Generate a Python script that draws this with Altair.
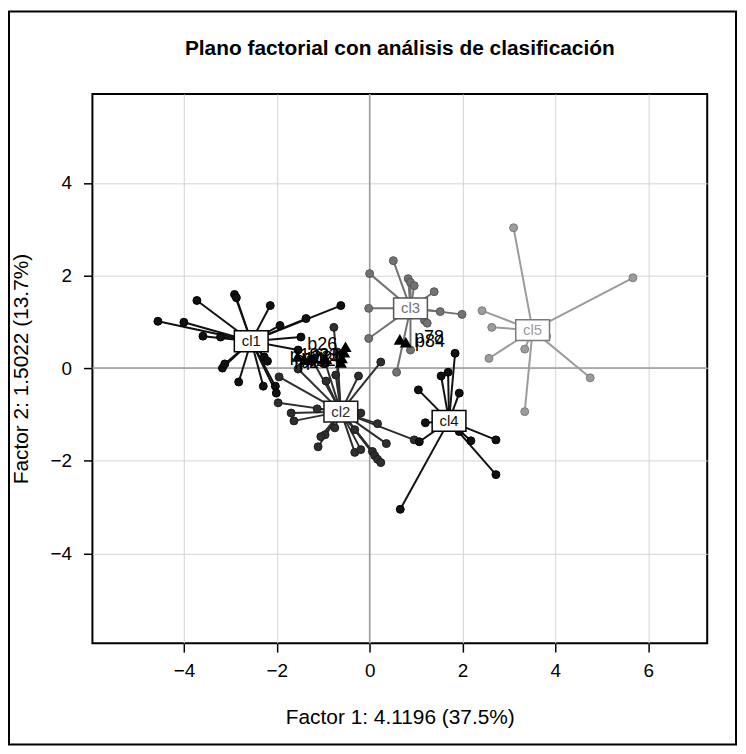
import altair as alt
import pandas as pd

title_text = "Plano factorial con análisis de clasificación"
x_title = "Factor 1: 4.1196 (37.5%)"
y_title = "Factor 2: 1.5022 (13.7%)"

x_ticks = [-4, -2, 0, 2, 4, 6]
y_ticks = [-4, -2, 0, 2, 4]
x_domain = [-5.97, 7.27]
y_domain = [-5.94, 5.92]

clusters = ["cl1", "cl2", "cl3", "cl4", "cl5"]
center_x = [-2.55, -0.62, 0.88, 1.71, 3.51]
center_y = [0.58, -0.94, 1.29, -1.14, 0.82]
line_colors = ["#111111", "#2e2e2e", "#727272", "#111111", "#9c9c9c"]
edge_colors = ["#000000", "#1a1a1a", "#555555", "#000000", "#7a7a7a"]

cl1_x = [-4.56, -4.00, -3.72, -3.59, -3.21, -2.91, -2.87, -2.14, -1.93, -1.37, -0.62,
         -1.48, -1.54, -3.17, -3.12, -2.82, -2.29, -2.27, -2.20, -2.03, -2.01]
cl1_y = [1.01, 0.99, 1.46, 0.69, 0.67, 1.59, 1.52, 1.35, 0.92, 1.07, 1.35,
         0.67, 0.39, 0.00, 0.09, -0.30, -0.39, 0.24, 0.15, -0.39, -0.54]

cl2_x = [-1.95, -1.97, -1.69, -1.63, -1.13, -0.94, -0.73, -0.24, 0.24, -0.77, -1.54,
         -0.19, 0.17, 0.36, 0.96, -0.75, -0.96, -1.05, -1.11, -0.32, -0.32, -0.19,
         0.06, 0.11, 0.17, 0.24, -1.25, -0.95, -0.70]
cl2_y = [-0.19, -0.75, -0.97, -1.14, -0.88, -0.28, -0.15, -0.17, 0.13, 0.88, -0.02,
         -0.97, -1.20, -1.63, -1.55, -1.29, -1.44, -1.48, -1.70, -1.33, -1.82, -1.76,
         -1.80, -1.89, -1.97, -2.04, 0.20, 0.10, 0.35]

cl3_x = [0.51, 0.00, -0.02, -0.02, 0.83, 0.88, 0.96, 1.39, 1.52, 1.99, 1.18, 1.24, 0.88, 0.58]
cl3_y = [2.32, 2.04, 1.29, 0.64, 1.93, 1.85, 1.78, 1.65, 1.22, 1.16, 1.03, 0.97, 0.39, -0.09]

cl4_x = [1.84, 1.54, 1.69, 1.93, 1.05, 1.20, 1.07, 1.93, 2.18, 2.72, 2.72, 0.66]
cl4_y = [0.32, -0.17, -0.09, -0.54, -0.47, -1.18, -1.59, -1.37, -1.57, -1.55, -2.30, -3.05]

cl5_x = [3.10, 5.67, 2.42, 2.63, 3.81, 3.34, 2.57, 4.75, 3.34]
cl5_y = [3.03, 1.95, 1.24, 0.88, 0.69, 0.41, 0.21, -0.21, -0.94]

sup_x = [-1.55, -1.40, -1.20, -0.95, -0.60, -0.52, -0.55, -0.62, 0.65, 0.78]
sup_y = [0.25, 0.18, 0.22, 0.20, 0.22, 0.46, 0.34, 0.12, 0.62, 0.56]

lab_names = ["b26", "p13", "p14", "p21", "p22", "p23", "p24", "p25", "p78", "p84"]
lab_x = [-1.02, -1.40, -1.30, -1.15, -1.05, -0.98, -0.90, -1.20, 1.28, 1.30]
lab_y = [0.50, 0.25, 0.18, 0.22, 0.15, 0.26, 0.20, 0.12, 0.64, 0.57]

cx_all = [cl1_x, cl2_x, cl3_x, cl4_x, cl5_x]
cy_all = [cl1_y, cl2_y, cl3_y, cl4_y, cl5_y]
rows = []
for i, c in enumerate(clusters):
    for xv, yv in zip(cx_all[i], cy_all[i]):
        rows.append({"x": xv, "y": yv, "cl": c, "cx": center_x[i], "cy": center_y[i]})
pts = pd.DataFrame(rows)
centers = pd.DataFrame({"cl": clusters, "x": center_x, "y": center_y})
sup = pd.DataFrame({"x": sup_x, "y": sup_y})
labs = pd.DataFrame({"name": lab_names, "x": lab_x, "y": lab_y})

FONT = "Liberation Sans"

xs = alt.Scale(domain=x_domain, nice=False, zero=False)
ys = alt.Scale(domain=y_domain, nice=False, zero=False)
col = alt.Scale(domain=clusters, range=line_colors)
edg = alt.Scale(domain=clusters, range=edge_colors)

x_axis = alt.Axis(values=x_ticks, title=x_title, grid=True, gridColor="#d4d4d4", gridWidth=1,
                  domain=False, tickColor="black", tickSize=9, tickWidth=1.5,
                  labelFontSize=19, labelColor="black", labelPadding=10, labelFont=FONT,
                  titleFontSize=21, titleFontWeight="normal", titleColor="black", titleFont=FONT,
                  titleX=309.5, titleY=75, titleBaseline="middle", titleAnchor="middle")
y_axis = alt.Axis(values=y_ticks, title=y_title, grid=True, gridColor="#d4d4d4", gridWidth=1,
                  domain=False, tickColor="black", tickSize=9, tickWidth=1.5,
                  labelFontSize=19, labelColor="black", labelPadding=12, labelFont=FONT,
                  titleFontSize=21, titleFontWeight="normal", titleColor="black", titleFont=FONT,
                  titleX=-71, titleY=276.5, titleAngle=-90, titleBaseline="middle", titleAlign="center")

base_x = alt.X("x:Q", scale=xs, axis=x_axis)
base_y = alt.Y("y:Q", scale=ys, axis=y_axis)

zero = pd.DataFrame({"v": [0]})
vline = alt.Chart(zero).mark_rule(color="#9a9a9a", strokeWidth=1.5).encode(
    x=alt.X("v:Q", scale=xs, axis=x_axis))
hline = alt.Chart(zero).mark_rule(color="#9a9a9a", strokeWidth=1.5).encode(
    y=alt.Y("v:Q", scale=ys, axis=y_axis))

spokes = alt.Chart(pts).mark_rule(strokeWidth=2).encode(
    x=base_x, y=base_y, x2="cx:Q", y2="cy:Q",
    color=alt.Color("cl:N", scale=col, legend=None))

dots = alt.Chart(pts).mark_circle(size=64, opacity=1, strokeWidth=1).encode(
    x=base_x, y=base_y,
    color=alt.Color("cl:N", scale=col, legend=None),
    stroke=alt.Stroke("cl:N", scale=edg, legend=None))

tri = alt.Chart(sup).mark_point(shape="triangle-up", filled=True, size=150, color="black", opacity=1).encode(
    x=base_x, y=base_y)

tri_lab = alt.Chart(labs).mark_text(fontSize=18, font=FONT, color="black").encode(
    x=base_x, y=base_y, text="name:N")

box_shape = "M-1.7,-1.05L1.7,-1.05L1.7,1.05L-1.7,1.05Z"
boxes = alt.Chart(centers).mark_point(shape=box_shape, size=400, filled=True, fill="white",
                                      fillOpacity=1, opacity=1, strokeWidth=1.5).encode(
    x=base_x, y=base_y, stroke=alt.Stroke("cl:N", scale=col, legend=None))

box_txt = alt.Chart(centers).mark_text(fontSize=15, font=FONT).encode(
    x=base_x, y=base_y, text="cl:N", color=alt.Color("cl:N", scale=col, legend=None))

title_df = pd.DataFrame({"t": [title_text]})
title_mark = alt.Chart(title_df).mark_text(fontSize=21, fontWeight="bold", font=FONT, color="black",
                                           align="center", baseline="middle").encode(
    x=alt.value(309.5), y=alt.value(-45), text="t:N")

border = alt.Chart(zero).mark_rect(filled=False, stroke="black", strokeWidth=2).encode(
    x=alt.value(-84), x2=alt.value(648), y=alt.value(-83), y2=alt.value(655))

chart = alt.layer(vline, hline, spokes, dots, tri, tri_lab, boxes, box_txt, title_mark, border).properties(
    width=619, height=553,
    padding={"left": 85, "top": 84, "right": 31, "bottom": 103},
    autosize=alt.AutoSizeParams(type="none"),
).configure(background="white").configure_view(stroke="black", strokeWidth=2)

chart.save("out.html", embed_options={"renderer": "svg", "actions": False})
